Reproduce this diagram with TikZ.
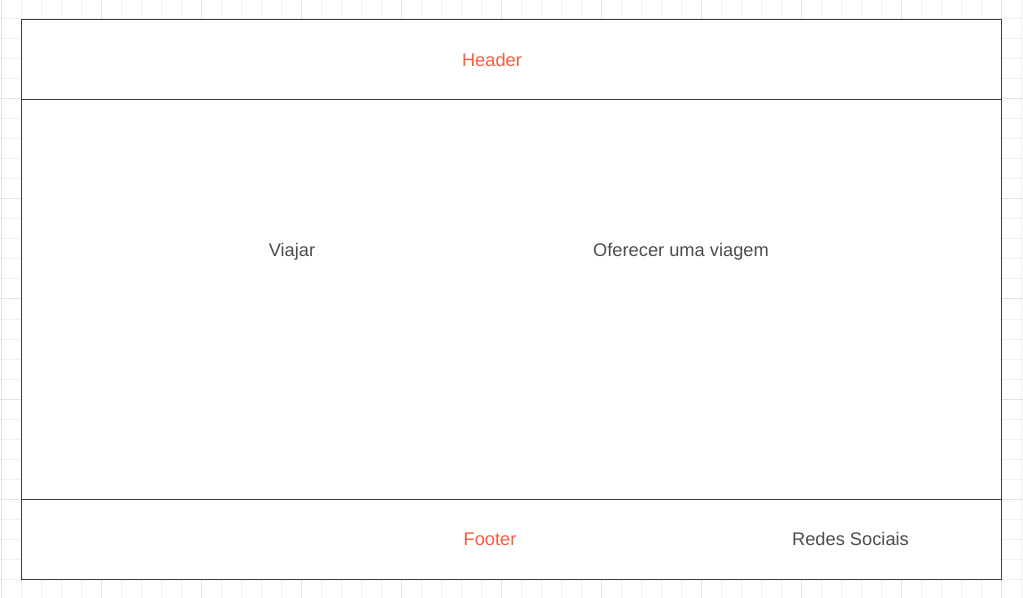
\documentclass[tikz,border=0pt]{standalone}
\usepackage{fontspec}
\setmainfont{Liberation Sans}
\definecolor{gridminor}{HTML}{F0F0F0}
\definecolor{gridmajor}{HTML}{E2E2E2}
\definecolor{accent}{HTML}{FF5B3D}
\definecolor{txt}{HTML}{4D4D4D}
\definecolor{edge}{HTML}{3C3C3C}
\tikzset{
  lbl/.style={font=\fontsize{13.7pt}{16pt}\selectfont, text=txt, inner sep=0pt,
    text height=0.72em, text depth=0.21em},
  accentlbl/.style={lbl, text=accent},
  panel/.style={draw=edge, line width=0.75pt}
}
\begin{document}
\begin{tikzpicture}[x=0.75pt, y=-0.75pt]
\useasboundingbox (0,0) rectangle (1023,598);
\fill[white] (0,0) rectangle (1023,598);
% grid
\foreach \i in {0,...,51} {
  \pgfmathtruncatemacro{\xx}{1+20*\i}
  \draw[gridminor, line width=0.75pt] (\xx,0) -- (\xx,598);
}
\foreach \j in {1,...,30} {
  \pgfmathtruncatemacro{\yy}{-1+20*\j}
  \draw[gridminor, line width=0.75pt] (0,\yy) -- (1023,\yy);
}
\foreach \i in {0,...,10} {
  \pgfmathtruncatemacro{\xx}{1+100*\i}
  \draw[gridmajor, line width=0.75pt] (\xx,0) -- (\xx,598);
}
\foreach \j in {1,...,6} {
  \pgfmathtruncatemacro{\yy}{-1+100*\j}
  \draw[gridmajor, line width=0.75pt] (0,\yy) -- (1023,\yy);
}
% panels
\draw[panel, fill=white] (21,20) rectangle (1001,579);
\draw[panel] (21,100) -- (1001,100);
\draw[panel] (21,499) -- (1001,499);
% labels
\node[accentlbl] (header) at (492,63) {Header};
\node[lbl] (viajar) at (292,253) {Viajar};
\node[lbl] (oferecer) at (681,253) {Oferecer uma viagem};
\node[accentlbl] (footer) at (490,542) {Footer};
\node[lbl] (redes) at (850.5,542) {Redes Sociais};
\end{tikzpicture}
\end{document}
